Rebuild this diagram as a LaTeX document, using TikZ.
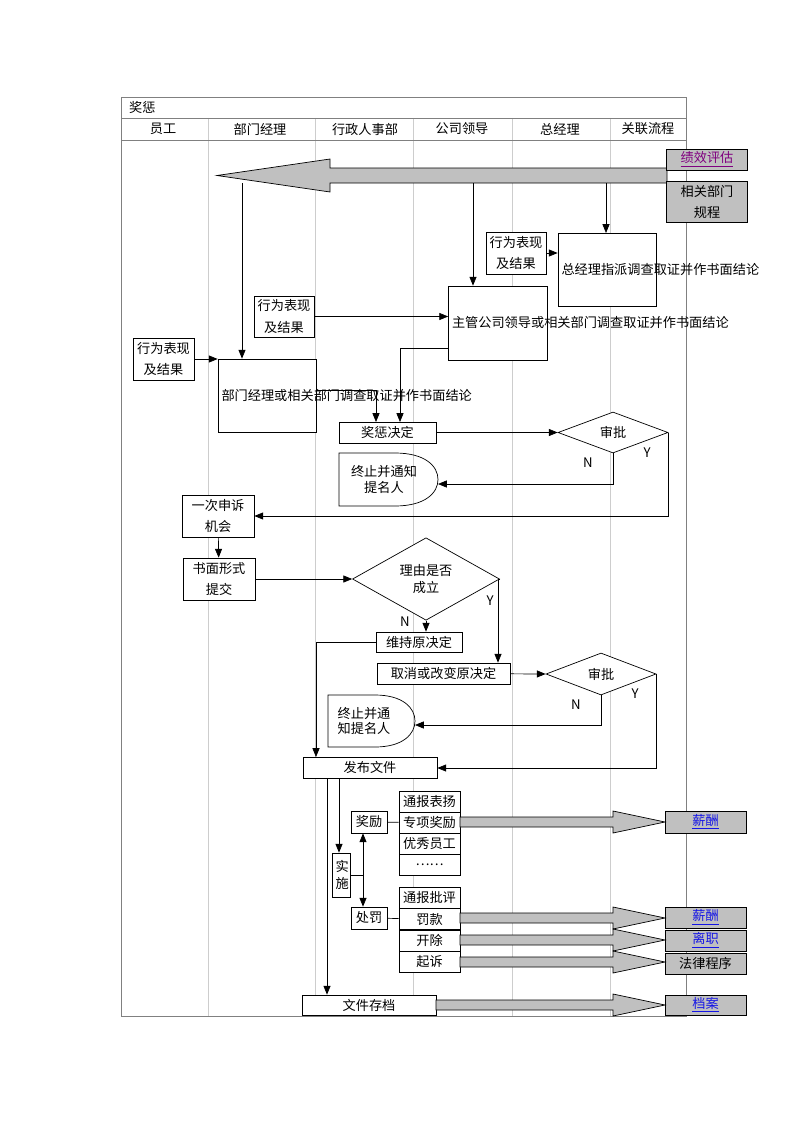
\documentclass[tikz,border=0pt]{standalone}
\usepackage{fontspec}
\setmainfont{Noto Sans CJK SC}
\usepackage{tikz}
\usetikzlibrary{shapes.geometric, arrows.meta}
\definecolor{lane}{RGB}{205, 205, 205}
\definecolor{fatgray}{RGB}{192, 192, 192}
\definecolor{linkblue}{RGB}{20, 20, 230}
\definecolor{linkpurple}{RGB}{128, 0, 128}
\tikzset{
    box/.style={draw, rectangle, fill=white, inner sep=1pt, align=center, font=\fontsize{7.5}{10}\selectfont},
    sz/.style n args={2}{minimum width=#1*0.02cm, minimum height=#2*0.02cm, text width=#1*0.02cm-4pt},
    gbox/.style={box, fill=fatgray},
    decide/.style={draw, diamond, fill=white, inner sep=0pt, align=center, font=\fontsize{7.5}{10}\selectfont},
    conn/.style={-{Triangle[length=5pt, width=4pt]}, thin},
    plain/.style={-, thin},
    fat/.style={draw, fill=fatgray, thin},
    lbl/.style={font=\fontsize{7.5}{9}\selectfont},
}
\newcommand{\fatarrow}[4]{% x1, x2 (tip), y, head base
    \filldraw[fat] (#1,#3-5) -- (#4,#3-5) -- (#4,#3-11) -- (#2,#3) -- (#4,#3+11) -- (#4,#3+5) -- (#1,#3+5) -- cycle;}
\newcommand{\lnk}[2]{\textcolor{#1}{\underline{#2}}}

\begin{document}
\begin{tikzpicture}[x=0.02cm, y=-0.02cm]
    \useasboundingbox (0,0) rectangle (800,1132);

    % frame and lanes
    \foreach \lx in {208, 315, 413, 512, 610}
        \draw[lane] (\lx,118) -- (\lx,1016);
    \draw[gray] (121,97) rectangle (686,1016);
    \draw[gray] (121,118) -- (686,118);
    \draw[gray] (121,140) -- (686,140);
    \node[lbl, anchor=west] (title) at (123,107.5) {奖惩};
    \foreach \hx/\hname in {163/员工, 260/部门经理, 365/行政人事部, 462/公司领导, 560/总经理, 648/关联流程}
        \node[lbl] at (\hx,129) {\hname};

    % big arrow from related processes
    \filldraw[fat] (667,168) -- (330,168) -- (330,159) -- (217,175.5) -- (330,192) -- (330,183) -- (667,183) -- cycle;
    \node[gbox, sz={81}{21}] (jxpg) at (707,159.5) {\lnk{linkpurple}{绩效评估}};
    \node[gbox, sz={81}{41}] (xggc) at (707,201.5) {相关部门\\[2pt]规程};

    % investigation boxes
    \node[box, sz={60}{42}] (xw1) at (516,253) {行为表现\\[2pt]及结果};
    \node[box, sz={98}{73}, anchor=north] (zjl) at (607,233) {总经理指派调查取证并作书面结论};
    \node[box, sz={60}{41}] (xw2) at (284,316.5) {行为表现\\[2pt]及结果};
    \node[box, sz={99}{74}] (zg) at (498,323) {主管公司领导或相关部门调查取证并作书面结论};
    \node[box, sz={61}{42}] (xw3) at (163.5,359) {行为表现\\[2pt]及结果};
    \node[box, sz={98}{73}] (bm) at (267,395.5) {部门经理或相关部门调查取证并作书面结论};

    \coordinate (a1) at (242,183);
    \coordinate (a2) at (473,183);
    \coordinate (a3) at (606,183);
    \draw[conn] (a1) -- (bm.north -| a1);
    \draw[conn] (a2) -- (zg.north -| a2);
    \draw[conn] (a3) -- (zjl.north -| a3);
    \draw[conn] (xw1) -- (xw1 -| zjl.west);
    \draw[conn] (xw2) -- (xw2 -| zg.west);
    \draw[conn] (xw3) -- (xw3 -| bm.west);

    % decision
    \node[box, sz={97}{21}] (jcjd) at (387.5,432.5) {奖惩决定};
    \draw[conn] (bm.east |- 0,390) -| (376,422);
    \draw[conn] (zg.west |- 0,348) -| (400,422);
    \node[decide, minimum width=110*0.02cm, minimum height=41*0.02cm] (sp1) at (613,432.5) {审批};
    \draw[conn] (jcjd) -- (sp1.west);
    \draw (339,453) -- (395,453) .. controls (425,453) and (438,466) .. (438,479.5) .. controls (438,493) and (425,506) .. (395,506) -- (339,506) -- cycle;
    \node[lbl, align=center] (zz1) at (384,479.5) {终止并通知\\提名人};
    \coordinate (zz1e) at (438,484);
    \draw[conn] (sp1.south) |- (zz1e);
    \node[lbl] (n1) at (588,463) {N};
    \node[lbl] (y1) at (647,453) {Y};

    % appeal
    \node[box, sz={72}{42}] (ss) at (218,516) {一次申诉\\[2pt]机会};
    \node[box, sz={72}{42}] (sm) at (219,579) {书面形式\\[2pt]提交};
    \draw[conn] (sp1.east) |- (ss.east |- 0,516);
    \draw[conn] (ss) -- (sm);
    \node[decide, minimum width=147*0.02cm, minimum height=62*0.02cm] (ly) at (426,579) {理由是否\\成立};
    \draw[conn] (sm) -- (ly.west);
    \node[box, sz={86}{20}] (wc) at (419,642) {维持原决定};
    \node[box, sz={133}{21}] (qx) at (443.5,673.5) {取消或改变原决定};
    \draw[conn] (ly.south) -- (ly.south |- wc.north);
    \draw[conn] (ly.east) -- (498,579) -- (qx.north -| 498,0);
    \node[lbl] (n2) at (405,622) {N};
    \node[lbl] (y2) at (490,601) {Y};
    \node[decide, minimum width=110*0.02cm, minimum height=42*0.02cm] (sp2) at (601,674) {审批};
    \draw[conn] (qx) -- (sp2.west);
    \draw (328,695) -- (375,695) .. controls (403,695) and (415,708) .. (415,721) .. controls (415,734) and (403,747) .. (375,747) -- (328,747) -- cycle;
    \node[lbl, align=center] (zz2) at (364,721) {终止并通\\知提名人};
    \coordinate (zz2e) at (415,725);
    \draw[conn] (sp2.south) |- (zz2e);
    \node[lbl] (n3) at (576,705) {N};
    \node[lbl] (y3) at (635,694) {Y};

    % publish
    \node[box, sz={134}{21}] (fb) at (370,767.5) {发布文件};
    \draw[conn] (wc.west) -| (316,757);
    \draw[conn] (sp2.east) |- (fb.east |- 0,768);

    % implement
    \node[box, sz={18}{44}] (ss2) at (341,875) {实\\施};
    \node[box, sz={36}{22}] (jl) at (369,822) {奖励};
    \node[box, sz={36}{22}] (cf) at (369,918) {处罚};
    \draw[conn] (fb.south -| 339,0) -- (ss2.north -| 339,0);
    \draw[{Triangle[length=5pt, width=4pt]}-{Triangle[length=5pt, width=4pt]}] (jl.south -| 363,0) -- (cf.north -| 363,0);
    \draw[plain] (ss2.east) -- (363,875);
    \foreach \i/\txt in {0/通报表扬, 1/专项奖励, 2/优秀员工, 3/……}
        \node[box, sz={61}{21}] (r\i) at (429.5,801.5+\i*21) {\txt};
    \foreach \i/\txt in {0/通报批评, 1/罚款, 2/开除, 3/起诉}
        \node[box, sz={61}{21}] (p\i) at (429.5,897.5+\i*21.5) {\txt};
    \draw[plain] (jl) -- (r1);
    \draw[plain] (cf) -- (p1);

    % links to related processes
    \node[gbox, sz={81}{22}] (xc1) at (705.5,822) {\lnk{linkblue}{薪酬}};
    \node[gbox, sz={81}{21}] (xc2) at (705.5,917.5) {\lnk{linkblue}{薪酬}};
    \node[gbox, sz={81}{21}] (lz) at (705.5,940.5) {\lnk{linkblue}{离职}};
    \node[gbox, sz={81}{21}] (fl) at (705.5,963.5) {法律程序};
    \node[box, sz={134}{20}] (wjcd) at (369,1005) {文件存档};
    \node[gbox, sz={81}{20}] (da) at (705.5,1005) {\lnk{linkblue}{档案}};
    \draw[conn] (fb.south -| 327,0) -- (wjcd.north -| 327,0);
    \fatarrow{460}{665}{822}{613}
    \fatarrow{460}{665}{918}{613}
    \fatarrow{460}{665}{940}{613}
    \fatarrow{460}{665}{962}{613}
    \fatarrow{436}{665}{1005}{613}
\end{tikzpicture}
\end{document}
